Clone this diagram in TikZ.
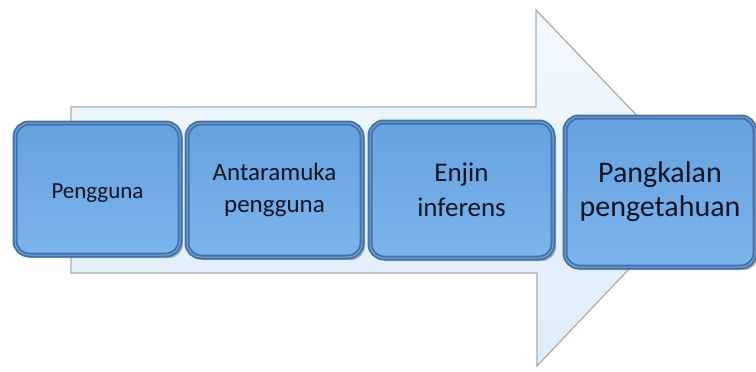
\documentclass[tikz,border=0pt]{standalone}
\usepackage{fontspec}
\setmainfont{Carlito}
\usetikzlibrary{shadows}
\definecolor{boxtop}{HTML}{66A1E0}
\definecolor{boxbot}{HTML}{7CB4EC}
\definecolor{boxrim}{HTML}{3F73AD}
\definecolor{arrowfill}{HTML}{DDEDFA}
\definecolor{stagetext}{HTML}{0E1626}
\begin{document}
\begin{tikzpicture}[x=1pt, y=-1pt,
        stage/.style={rectangle, rounded corners=14pt, draw=boxrim, line width=5pt,
            top color=boxtop, bottom color=boxbot, text=stagetext, align=center,
            inner sep=2pt, drop shadow={opacity=0.6, shadow xshift=3pt, shadow yshift=-3pt},
            postaction={draw=white, draw opacity=0.35, line width=1pt}},
        bigarrow/.style={draw=gray!65, line width=1.2pt, top color=arrowfill!35!white, bottom color=arrowfill}
    ]
    \useasboundingbox (0,0) rectangle (756,372);

    % Panah besar di belakang
    \path[bigarrow] (71,107) -- (536,107) -- (536,10) -- (706,188)
        -- (537,366) -- (537,273) -- (71,273) -- cycle;

    % Kotak-kotak
    \node[stage, minimum width=165pt, minimum height=132pt, font=\fontsize{23}{28}\selectfont,
        text height=19pt, text depth=0pt]
        (pengguna) at (97.5,189) {Pengguna};
    \node[stage, minimum width=175pt, minimum height=134pt, font=\fontsize{25}{32}\selectfont]
        (antaramuka) at (274.5,190) {Antaramuka\\pengguna};
    \node[stage, minimum width=183pt, minimum height=136pt, font=\fontsize{27}{35}\selectfont]
        (enjin) at (461.5,190) {Enjin\\inferens};
    \node[stage, minimum width=190pt, minimum height=150pt, font=\fontsize{30}{34}\selectfont]
        (pangkalan) at (660,192) {Pangkalan\\pengetahuan};
\end{tikzpicture}
\end{document}
